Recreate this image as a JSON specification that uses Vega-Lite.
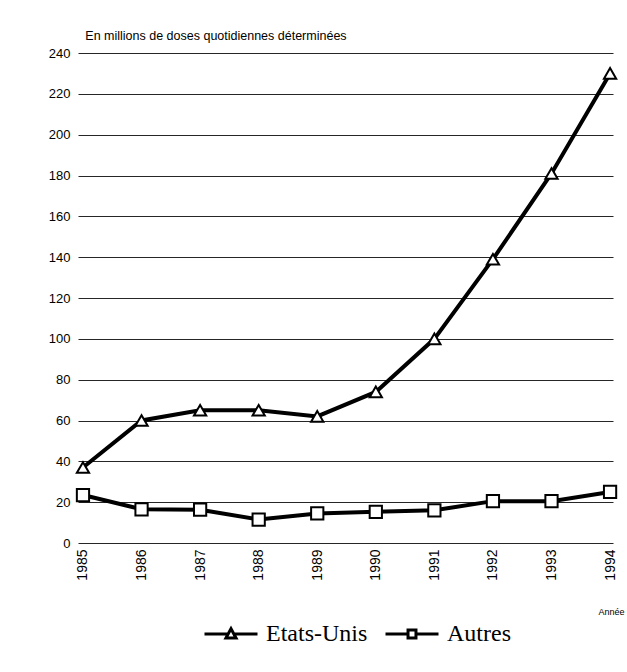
{
  "$schema": "https://vega.github.io/schema/vega-lite/v6.json",
  "autosize": "none",
  "width": 535,
  "height": 490,
  "padding": {"left": 78, "top": 53, "right": 14, "bottom": 129},
  "background": "white",
  "title": {
    "text": "En millions de doses quotidiennes déterminées",
    "anchor": "start",
    "dx": 37,
    "offset": 5,
    "font": "Liberation Sans",
    "fontSize": 12.5,
    "fontWeight": "normal",
    "color": "black"
  },
  "data": {
    "values": [
      {"annee": 1985, "serie": "Etats-Unis", "doses": 37},
      {"annee": 1986, "serie": "Etats-Unis", "doses": 60},
      {"annee": 1987, "serie": "Etats-Unis", "doses": 65},
      {"annee": 1988, "serie": "Etats-Unis", "doses": 65},
      {"annee": 1989, "serie": "Etats-Unis", "doses": 62},
      {"annee": 1990, "serie": "Etats-Unis", "doses": 74},
      {"annee": 1991, "serie": "Etats-Unis", "doses": 100},
      {"annee": 1992, "serie": "Etats-Unis", "doses": 139},
      {"annee": 1993, "serie": "Etats-Unis", "doses": 181},
      {"annee": 1994, "serie": "Etats-Unis", "doses": 230},
      {"annee": 1985, "serie": "Autres", "doses": 23.5},
      {"annee": 1986, "serie": "Autres", "doses": 16.5},
      {"annee": 1987, "serie": "Autres", "doses": 16.3},
      {"annee": 1988, "serie": "Autres", "doses": 11.5},
      {"annee": 1989, "serie": "Autres", "doses": 14.5},
      {"annee": 1990, "serie": "Autres", "doses": 15.3},
      {"annee": 1991, "serie": "Autres", "doses": 16},
      {"annee": 1992, "serie": "Autres", "doses": 20.5},
      {"annee": 1993, "serie": "Autres", "doses": 20.5},
      {"annee": 1994, "serie": "Autres", "doses": 25}
    ]
  },
  "encoding": {
    "x": {
      "field": "annee",
      "type": "quantitative",
      "scale": {"domain": [1984.915, 1994.05], "nice": false, "zero": false},
      "axis": {
        "values": [1985, 1986, 1987, 1988, 1989, 1990, 1991, 1992, 1993, 1994],
        "format": "d",
        "labelAngle": -90,
        "labelFont": "Liberation Sans",
        "labelFontSize": 14,
        "labelColor": "black",
        "labelPadding": 6,
        "labelFlush": false,
        "labelOverlap": false,
        "domain": false,
        "ticks": false,
        "grid": false,
        "title": "Année",
        "titleFont": "Liberation Sans",
        "titleFontSize": 9,
        "titleFontWeight": "normal",
        "titleColor": "black",
        "titleAnchor": "start",
        "titleAlign": "left",
        "titleX": 520,
        "titleY": 64
      }
    },
    "y": {
      "field": "doses",
      "type": "quantitative",
      "scale": {"domain": [0, 240], "nice": false},
      "axis": {
        "values": [0, 20, 40, 60, 80, 100, 120, 140, 160, 180, 200, 220, 240],
        "labelFont": "Liberation Sans",
        "labelFontSize": 13,
        "labelColor": "black",
        "labelPadding": 8,
        "domain": false,
        "ticks": false,
        "grid": true,
        "gridColor": "black",
        "gridWidth": 1,
        "gridOpacity": 0.85,
        "title": null
      }
    }
  },
  "layer": [
    {
      "mark": {"type": "line", "color": "black", "strokeWidth": 4},
      "encoding": {"detail": {"field": "serie", "type": "nominal"}}
    },
    {
      "mark": {"type": "point", "filled": true, "fill": "white", "stroke": "black", "strokeWidth": 2, "size": 150, "opacity": 1},
      "encoding": {
        "shape": {
          "field": "serie",
          "type": "nominal",
          "scale": {"domain": ["Etats-Unis", "Autres"], "range": ["triangle-up", "square"]},
          "legend": null
        }
      }
    },
    {
      "transform": [{"filter": "datum.doses < 0"}],
      "mark": {"type": "point", "filled": false, "color": "black", "strokeWidth": 3},
      "encoding": {
        "shape": {
          "field": "serie",
          "type": "nominal",
          "scale": {
            "domain": ["Etats-Unis", "Autres"],
            "range": [
              "M-1,0H-0.12M0.12,0H1M-0.19,0.15L0,-0.2L0.19,0.15Z",
              "M-1,0H-0.15M0.15,0H1M-0.15,-0.15H0.15V0.15H-0.15Z"
            ]
          },
          "legend": {
            "orient": "none",
            "direction": "horizontal",
            "legendX": 125,
            "legendY": 553,
            "title": null,
            "padding": 0,
            "symbolSize": 2809,
            "symbolStrokeWidth": 3,
            "symbolStrokeColor": "black",
            "symbolOpacity": 1,
            "labelFont": "Liberation Serif",
            "labelFontSize": 24,
            "labelColor": "black",
            "labelOffset": 7,
            "columnPadding": 11,
            "labelLimit": 300
          }
        }
      }
    }
  ],
  "resolve": {"scale": {"shape": "independent"}},
  "config": {"view": {"stroke": null}}
}
